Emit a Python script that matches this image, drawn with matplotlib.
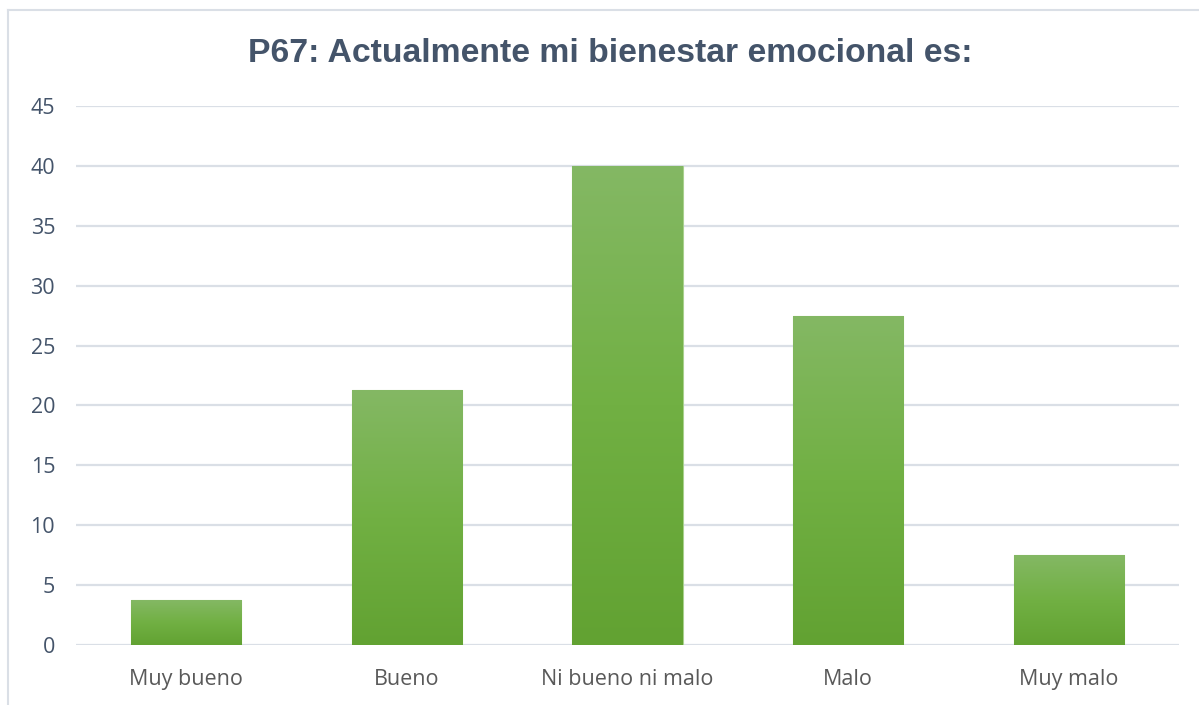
import matplotlib
matplotlib.use("Agg")
import matplotlib.pyplot as plt
import numpy as np
from matplotlib.colors import LinearSegmentedColormap
from matplotlib.lines import Line2D

categories = ["Muy bueno", "Bueno", "Ni bueno ni malo", "Malo", "Muy malo"]
values = [3.75, 21.25, 40, 27.5, 7.5]
yticks = [0, 5, 10, 15, 20, 25, 30, 35, 40, 45]
title = "P67: Actualmente mi bienestar emocional es:"

plt.rcParams['font.family'] = ['Liberation Sans', 'DejaVu Sans']

fig = plt.figure(figsize=(11.99, 7.05), dpi=100)
ax = fig.add_axes([76/1199, 1-645/705, (1179-76)/1199, (645-106)/705])

x = np.arange(len(categories))
bars = ax.bar(x, values, width=0.5, color='#70ad47', edgecolor='#a9d08e', linewidth=0.8, zorder=3)

cmap = LinearSegmentedColormap.from_list('g', ['#62a232', '#71b043', '#84b864'])
grad = np.linspace(0, 1, 256).reshape(-1, 1)
for b in bars:
    x0, y0 = b.get_x(), b.get_y()
    w, h = b.get_width(), b.get_height()
    im = ax.imshow(grad, cmap=cmap, aspect='auto', origin='lower',
                   extent=[x0, x0 + w, y0, y0 + h], zorder=3.5)
    im.set_clip_path(b)

ax.set_xlim(-0.5, len(categories) - 0.5)
ax.set_ylim(0, 45)
ax.set_yticks(yticks)
ax.set_xticks(x)
ax.set_xticklabels(categories)
ax.grid(axis='y', color='#dadfe6', linewidth=1.6, zorder=0)
ax.set_axisbelow(True)
for s in ax.spines.values():
    s.set_visible(False)
ax.tick_params(axis='both', length=0)
ax.tick_params(axis='y', labelsize=15.5, labelcolor='#44546a', pad=15)
ax.tick_params(axis='x', labelsize=15.5, labelcolor='#595959', pad=17)
for lbl in ax.get_yticklabels():
    lbl.set_fontfamily(['Open Sans', 'DejaVu Sans'])
for lbl in ax.get_xticklabels():
    lbl.set_fontfamily(['Open Sans', 'DejaVu Sans'])

fig.text(610/1199, 1 - 53/705, title, ha='center', va='center', fontsize=24.3,
         fontweight='bold', color='#44546a')

fig.add_artist(Line2D([8/1199, 8/1199], [1 - 10/705, 0], color='#dadfe6', linewidth=1.5))
fig.add_artist(Line2D([8/1199, 1], [1 - 10/705, 1 - 10/705], color='#dadfe6', linewidth=1.5))

fig.savefig("out.png", dpi=100)
